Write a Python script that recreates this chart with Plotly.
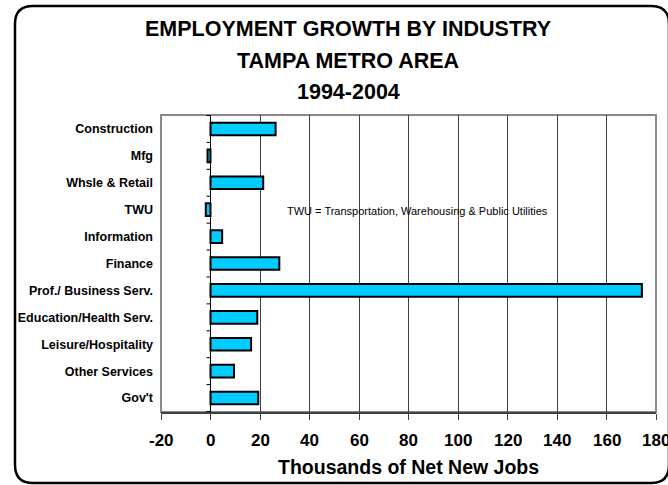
import plotly.graph_objects as go

# Net new jobs (thousands) by industry, 1994-2004
industries = [
    "Construction", "Mfg", "Whsle & Retail", "TWU", "Information", "Finance",
    "Prof./ Business Serv.", "Education/Health Serv.", "Leisure/Hospitality",
    "Other Services", "Gov't",
]
net_new_jobs = [26.3, -1.2, 21.3, -1.9, 4.7, 27.8, 174.3, 18.9, 16.4, 9.5, 19.3]
x_ticks = [-20, 0, 20, 40, 60, 80, 100, 120, 140, 160, 180]

W, H = 668, 485
L, R, T, B = 161, 12, 115, 73
PW, PH = W - L - R, H - T - B

FONT = "Liberation Sans, Arial, Helvetica, sans-serif"


def px(xp):
    return (xp - L) / PW


def py(yp):
    return (H - B - yp) / PH


def rounded_rect(x0, y0, x1, y1, r):
    pts = [
        ("M", [(x0 + r, y0)]),
        ("L", [(x1 - r, y0)]),
        ("Q", [(x1, y0), (x1, y0 + r)]),
        ("L", [(x1, y1 - r)]),
        ("Q", [(x1, y1), (x1 - r, y1)]),
        ("L", [(x0 + r, y1)]),
        ("Q", [(x0, y1), (x0, y1 - r)]),
        ("L", [(x0, y0 + r)]),
        ("Q", [(x0, y0), (x0 + r, y0)]),
    ]
    s = ""
    for cmd, ps in pts:
        s += cmd + " ".join(f"{px(a):.5f},{py(b):.5f}" for a, b in ps) + " "
    return s + "Z"


fig = go.Figure(
    go.Bar(
        x=net_new_jobs,
        y=industries,
        orientation="h",
        marker=dict(color="#00CCFF", line=dict(color="black", width=2)),
        hoverinfo="x+y",
    )
)

shapes = [
    # plot-area frame
    dict(type="rect", xref="paper", yref="paper", x0=0, x1=1, y0=0, y1=1,
         line=dict(color="#8a8a8a", width=2), layer="below"),
    # outer rounded chart border
    dict(type="path", xref="paper", yref="paper",
         path=rounded_rect(15, 6, 669, 483, 18),
         line=dict(color="black", width=2.5)),
]
# category dividers on the zero line
for i in range(len(industries) + 1):
    shapes.append(dict(type="line", xref="x", yref="y", xsizemode="pixel",
                       xanchor=0, x0=-4, x1=0, y0=i - 0.5, y1=i - 0.5,
                       line=dict(color="black", width=1)))

annotations = []
for text, yc in [("EMPLOYMENT GROWTH BY INDUSTRY", 29),
                 ("TAMPA METRO AREA", 61),
                 ("1994-2004", 92)]:
    annotations.append(dict(text=f"<b>{text}</b>", xref="paper", yref="paper",
                            x=px(348), y=py(yc), xanchor="center", yanchor="middle",
                            showarrow=False,
                            font=dict(family=FONT, size=21.5, color="black")))
annotations.append(dict(text="<b>Thousands of Net New Jobs</b>", xref="paper", yref="paper",
                        x=0.5, y=py(467), xanchor="center", yanchor="middle",
                        showarrow=False, font=dict(family=FONT, size=19.5, color="black")))
annotations.append(dict(text="TWU = Transportation, Warehousing & Public Utilities",
                        xref="paper", yref="paper", x=px(285), y=py(211),
                        xanchor="left", yanchor="middle", showarrow=False,
                        font=dict(family=FONT, size=11, color="black")))
# value-axis tick labels (the last one runs off the page edge)
for v in x_ticks:
    annotations.append(dict(text=f"<b>{v}</b>", xref="x", yref="paper",
                            x=v, y=py(440), xanchor="center", yanchor="middle",
                            showarrow=False,
                            font=dict(family=FONT, size=17, color="black")))

fig.update_layout(
    width=W, height=H,
    margin=dict(l=L, r=R, t=T, b=B, pad=0, autoexpand=False),
    paper_bgcolor="white", plot_bgcolor="white",
    showlegend=False,
    bargap=0.53,
    shapes=shapes,
    annotations=annotations,
    xaxis=dict(
        range=[-20, 180], tickmode="array", tickvals=x_ticks,
        showticklabels=False, automargin=False,
        showgrid=True, gridcolor="#404040", gridwidth=1,
        zeroline=True, zerolinecolor="black", zerolinewidth=1,
        showline=True, linecolor="#404040", linewidth=2,
        ticks="outside", ticklen=6, tickcolor="#404040", tickwidth=1,
        fixedrange=True,
    ),
    yaxis=dict(
        autorange="reversed", automargin=False,
        tickmode="array", tickvals=industries,
        ticktext=[f"<b>{c}</b>" for c in industries],
        tickfont=dict(family=FONT, size=12.5, color="black"),
        showgrid=False, showline=False, ticks="", ticklabelstandoff=7,
        fixedrange=True,
    ),
)

fig.write_html("out.html")
